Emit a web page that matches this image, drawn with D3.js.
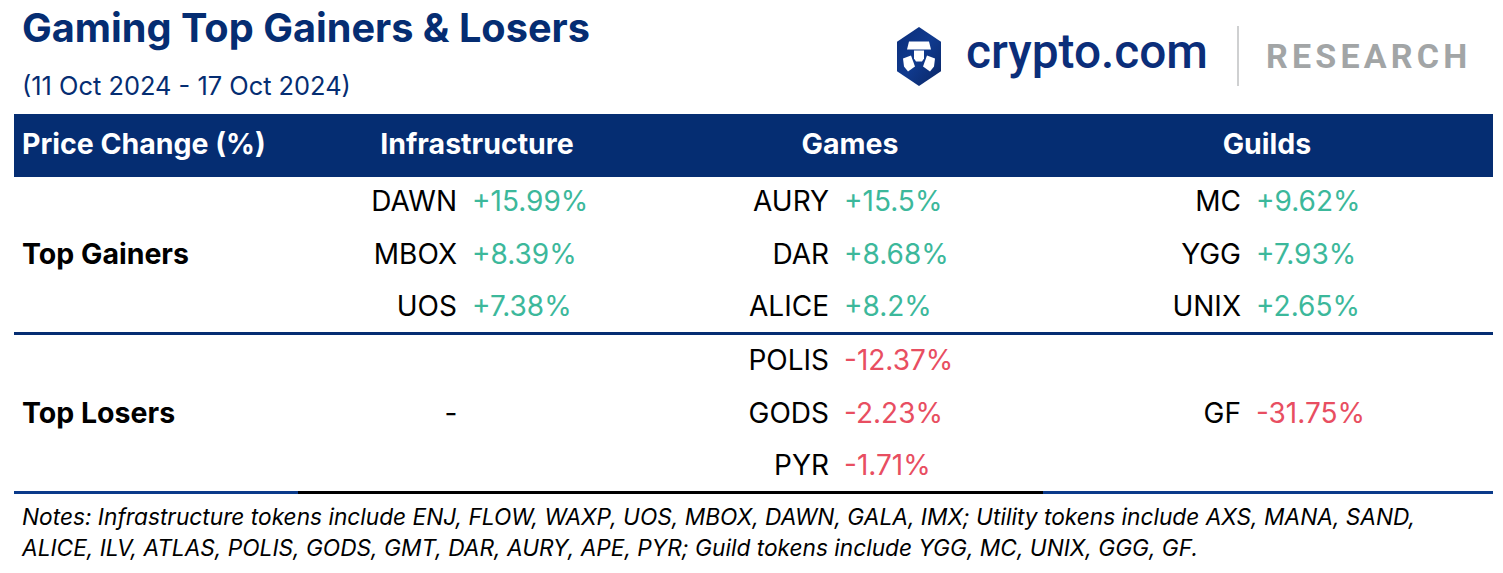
<!DOCTYPE html>
<html><head><meta charset="utf-8">
<script src="https://cdn.jsdelivr.net/npm/d3@7"></script>
<style>
html,body{margin:0;padding:0;background:#fff;}
svg{display:block;}
</style></head>
<body><svg id="c" width="1503" height="573"></svg>
<script>
const title = "Gaming Top Gainers & Losers";
const subtitle = "(11 Oct 2024 - 17 Oct 2024)";
const headerLabel = "Price Change (%)";
const sectors = ["Infrastructure", "Games", "Guilds"];
const rowGroups = ["Top Gainers", "Top Losers"];
const infraGainers = [["DAWN", 15.99], ["MBOX", 8.39], ["UOS", 7.38]];
const gamesGainers = [["AURY", 15.5], ["DAR", 8.68], ["ALICE", 8.2]];
const guildsGainers = [["MC", 9.62], ["YGG", 7.93], ["UNIX", 2.65]];
const infraLosers = [];
const gamesLosers = [["POLIS", -12.37], ["GODS", -2.23], ["PYR", -1.71]];
const guildsLosers = [["GF", -31.75]];
const notes = [
  "Notes: Infrastructure tokens include ENJ, FLOW, WAXP, UOS, MBOX, DAWN, GALA, IMX; Utility tokens include AXS, MANA, SAND,",
  "ALICE, ILV, ATLAS, POLIS, GODS, GMT, DAR, AURY, APE, PYR; Guild tokens include YGG, MC, UNIX, GGG, GF."
];

const NAVY = "#052d72", GREEN = "#3cb89b", RED = "#e84e61";
const FONT = "Inter, Roboto, sans-serif";
const svg = d3.select("#c");

// title
svg.append("text").attr("x", 22).attr("y", 42).text(title)
  .attr("font-family", FONT).attr("font-weight", 700).attr("font-size", 39.7).attr("fill", NAVY);
svg.append("text").attr("x", 22).attr("y", 95).text(subtitle)
  .attr("font-family", FONT).attr("font-size", 25.4).attr("fill", NAVY);

// logo
const logo = svg.append("g").attr("transform", "translate(919,56.5)");
const defs = svg.append("defs");
const lg = defs.append("linearGradient").attr("id", "hexg").attr("x1", 0).attr("y1", 0).attr("x2", 1).attr("y2", 1);
lg.append("stop").attr("offset", 0).attr("stop-color", "#0b2e7a");
lg.append("stop").attr("offset", 0.5).attr("stop-color", "#103a8e");
lg.append("stop").attr("offset", 1).attr("stop-color", "#0a2664");
const hexPts = d3.range(6).map(i => { const a = Math.PI / 3 * i - Math.PI / 2; return [22 * Math.cos(a) / Math.cos(Math.PI / 6), 29.5 * Math.sin(a)]; });
logo.append("path").attr("d", d3.line()(hexPts) + "Z").attr("fill", "url(#hexg)");
logo.append("path").attr("d", "M-10,-15 L10,-15 L12,-7 L-12,-7 Z").attr("fill", "#fff");
logo.append("path").attr("d", "M-5,-6 L5,-6 L5,2 L3,5 L-3,5 L-5,2 Z").attr("fill", "#fff");
logo.append("path").attr("d", "M-16,2 L-8,-1 L-4,10 L-11,15 L-15,10 Z").attr("fill", "#fff");
logo.append("path").attr("d", "M16,2 L8,-1 L4,10 L11,15 L15,10 Z").attr("fill", "#fff");
svg.append("text").attr("x", 966).attr("y", 68).text("crypto.com")
  .attr("font-family", "Roboto").attr("font-weight", 500).attr("font-size", 47.8).attr("fill", "#0b2e7a");
svg.append("line").attr("x1", 1238).attr("x2", 1238).attr("y1", 26).attr("y2", 86)
  .attr("stroke", "#bfc1c2").attr("stroke-width", 1.5);
svg.append("text").attr("x", 1266).attr("y", 68).text("RESEARCH")
  .attr("font-family", "Roboto").attr("font-weight", 700).attr("font-size", 34)
  .attr("letter-spacing", 4.2).attr("fill", "#a2a5a6");

// table
const left = 14, right = 1493;
const colCenter = d3.scaleOrdinal().domain(sectors).range([477, 850, 1267]);
const splitX = d3.scaleOrdinal().domain(sectors).range([465, 837, 1249]);
svg.append("rect").attr("x", left).attr("y", 114).attr("width", right - left).attr("height", 63).attr("fill", NAVY);
const headFont = g => g.attr("font-family", FONT).attr("font-weight", 700).attr("font-size", 28.5).attr("fill", "#fff").attr("dominant-baseline", "central");
svg.append("text").attr("x", 22).attr("y", 143).text(headerLabel).call(headFont);
svg.selectAll(".hd").data(sectors).join("text").attr("class", "hd")
  .attr("x", d => colCenter(d)).attr("y", 143).attr("text-anchor", "middle").text(d => d).call(headFont);

const gainY = d3.scaleBand().domain(d3.range(3)).range([175, 332]);
const loseY = d3.scaleBand().domain(d3.range(3)).range([334, 491]);
const rowC = (grp, i) => { const s = grp === 0 ? gainY : loseY; return s(i) + s.bandwidth() / 2; };
svg.selectAll(".grp").data(rowGroups).join("text").attr("class", "grp")
  .attr("x", 22).attr("y", (d, i) => rowC(i, 1)).attr("dominant-baseline", "central").text(d => d)
  .attr("font-family", FONT).attr("font-weight", 700).attr("font-size", 28.5).attr("fill", "#000");

const fmt = v => (v > 0 ? "+" : "") + v + "%";
const cells = [];
const gainers = [infraGainers, gamesGainers, guildsGainers];
const losers = [infraLosers, gamesLosers, guildsLosers];
sectors.forEach((s, si) => {
  gainers[si].forEach((d, i) => cells.push({ s, grp: 0, row: i, name: d[0], v: d[1] }));
  const L = losers[si];
  if (L.length === 0) cells.push({ s, grp: 1, row: 1, dash: true });
  else if (L.length === 1) cells.push({ s, grp: 1, row: 1, name: L[0][0], v: L[0][1] });
  else L.forEach((d, i) => cells.push({ s, grp: 1, row: i, name: d[0], v: d[1] }));
});
const cellFont = g => g.attr("font-family", FONT).attr("font-size", 28).attr("dominant-baseline", "central");
const cg = svg.selectAll(".cell").data(cells).join("g").attr("class", "cell");
cg.filter(d => !d.dash).append("text").attr("x", d => splitX(d.s) - 8).attr("y", d => rowC(d.grp, d.row))
  .attr("text-anchor", "end").attr("fill", "#000").text(d => d.name).call(cellFont);
cg.filter(d => !d.dash).append("text").attr("x", d => splitX(d.s) + 7).attr("y", d => rowC(d.grp, d.row))
  .attr("fill", d => d.v >= 0 ? GREEN : RED).text(d => fmt(d.v)).call(cellFont);
cg.filter(d => d.dash).append("text").attr("x", 451).attr("y", d => rowC(d.grp, d.row))
  .attr("text-anchor", "middle").attr("fill", "#000").text("-").call(cellFont);

// separator lines
svg.append("rect").attr("x", left).attr("y", 332).attr("width", right - left).attr("height", 3).attr("fill", NAVY);
svg.append("rect").attr("x", left).attr("y", 491).attr("width", right - left).attr("height", 3).attr("fill", "#0a3a8a");
svg.append("rect").attr("x", 298).attr("y", 491).attr("width", 1043 - 298).attr("height", 3).attr("fill", "#000");

// notes
svg.selectAll(".note").data(notes).join("text").attr("class", "note")
  .attr("x", 22).attr("y", (d, i) => 525 + i * 31).text(d => d)
  .attr("font-family", FONT).attr("font-style", "italic")
  .attr("font-size", 22.7).attr("fill", "#000");
</script></body></html>
